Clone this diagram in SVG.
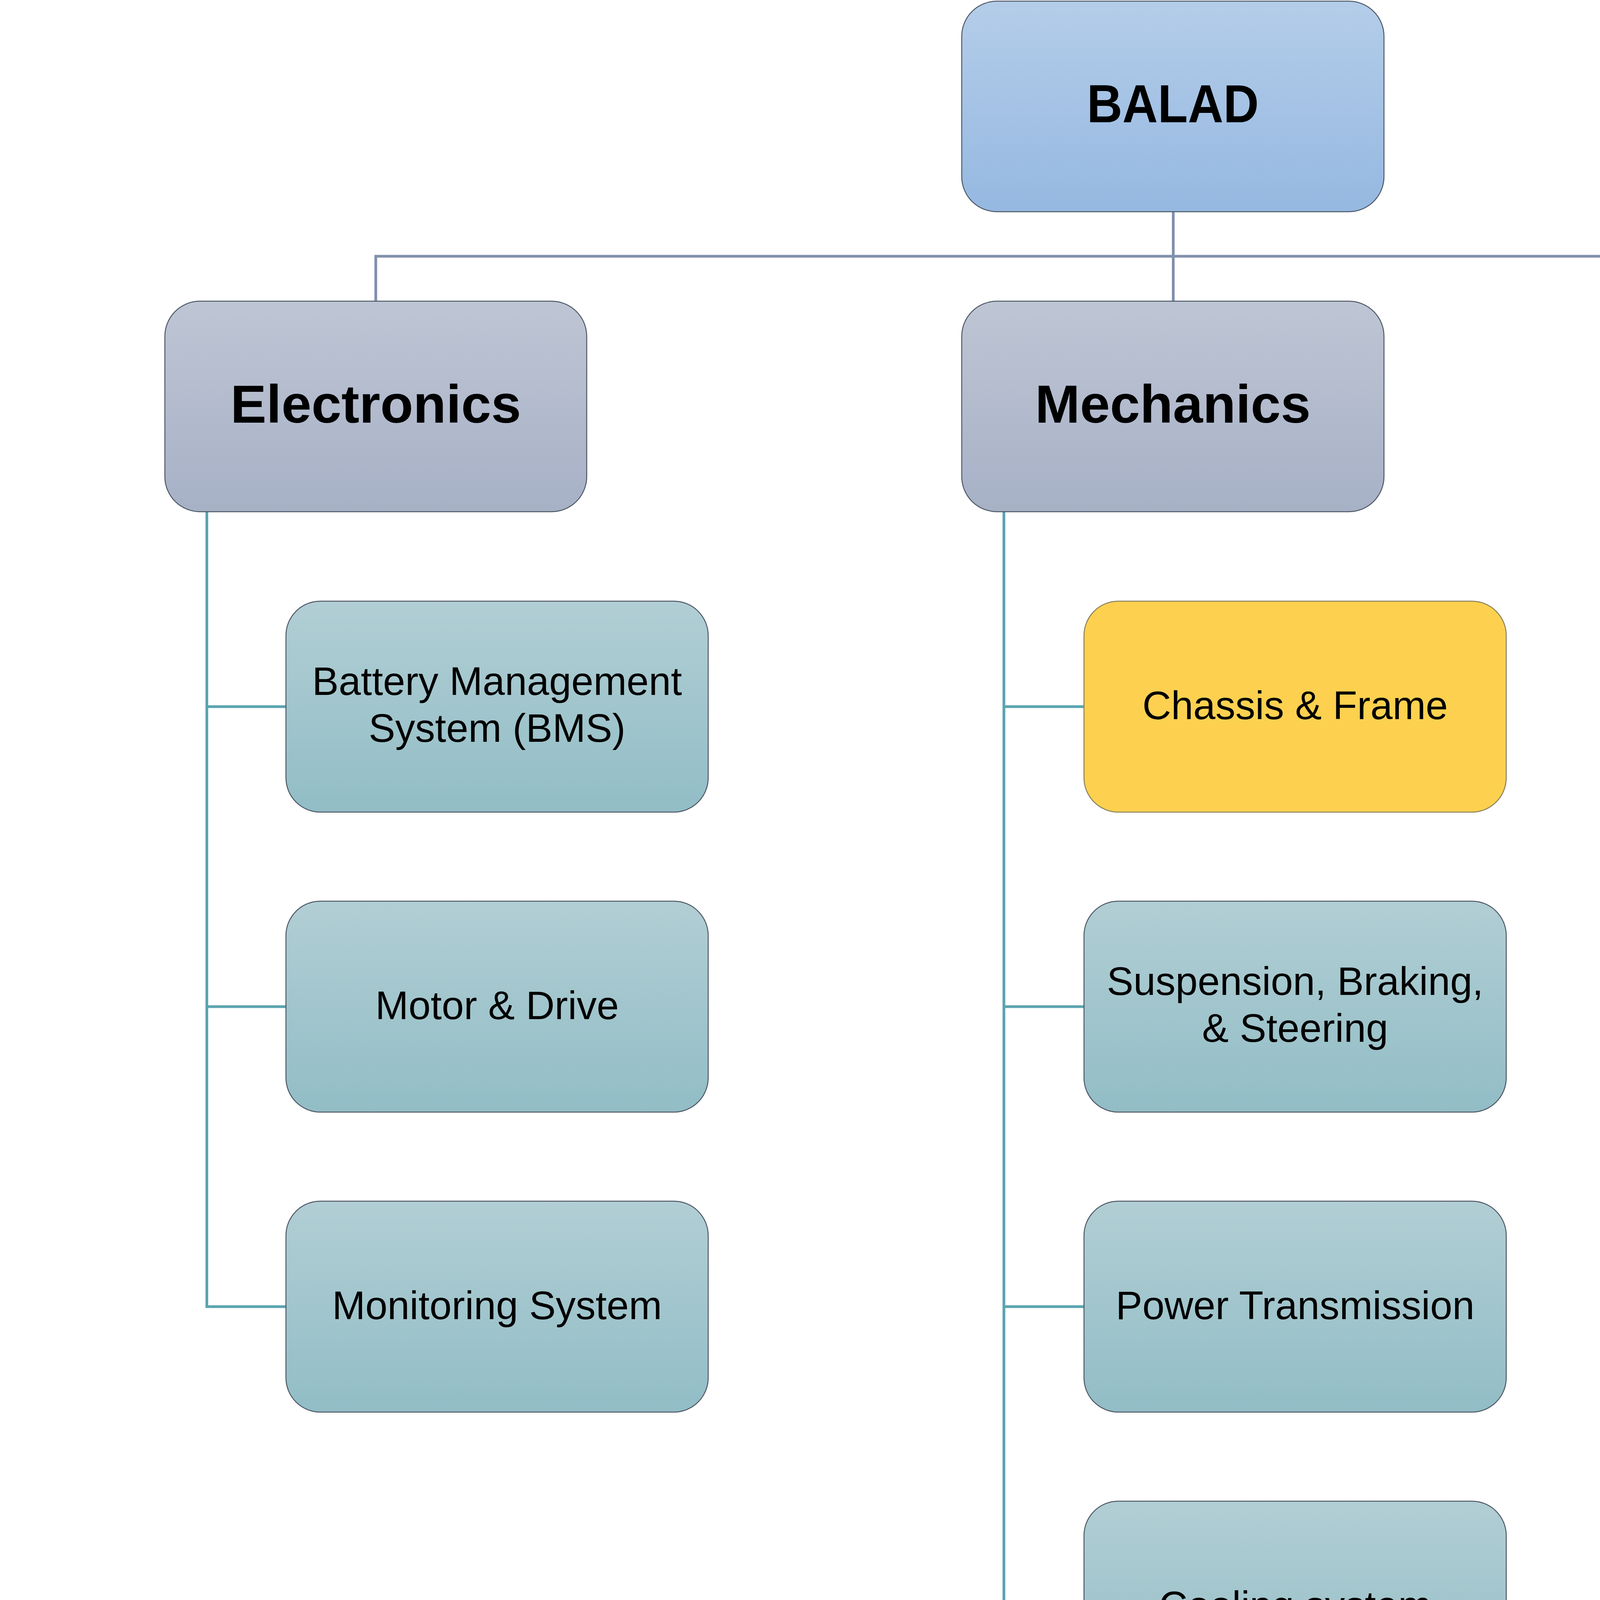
<svg xmlns="http://www.w3.org/2000/svg" width="6277" height="4388" viewBox="0 0 6277 4388">
<defs>
<linearGradient id="gBlue" x1="0" y1="0" x2="0" y2="1"><stop offset="0" stop-color="#b4cde9"/><stop offset="1" stop-color="#95b8e1"/></linearGradient>
<linearGradient id="gGray" x1="0" y1="0" x2="0" y2="1"><stop offset="0" stop-color="#bec5d4"/><stop offset="1" stop-color="#a7b1c6"/></linearGradient>
<linearGradient id="gTeal" x1="0" y1="0" x2="0" y2="1"><stop offset="0" stop-color="#b1ced4"/><stop offset="1" stop-color="#92bdc6"/></linearGradient>
</defs>
<style>
.box{stroke:#4e5866;stroke-width:2.5}
.root{fill:url(#gBlue)}
.l1{fill:url(#gGray)}
.l2{fill:url(#gTeal)}
.hl{fill:#fdd14f;stroke:#8a7f5c}
.t{font-family:"Liberation Sans",Arial,sans-serif;font-size:102px;fill:#000;text-anchor:middle}
.b{font-family:"Liberation Sans",Arial,sans-serif;font-size:138px;font-weight:bold;fill:#000;text-anchor:middle}
.c0{fill:none;stroke:#8090ad;stroke-width:7}
.c1{fill:none;stroke:#5ba4b0;stroke-width:7}
</style>
<rect width="6277" height="4388" fill="#ffffff"/>
<g id="connectors">
<path class="c0" d="M3003.5 542 V771 M962 771 V656 H5292.5 V771"/>
<path class="c1" d="M529.5 1310 V3345 H732 M529.5 1809 H732 M529.5 2577 H732"/>
<path class="c1" d="M2570 1310 V4113 H2775 M2570 1809 H2775 M2570 2577 H2775 M2570 3345 H2775"/>
<path class="c1" d="M4859.5 1310 V3345 H5062 M4859.5 1809 H5062 M4859.5 2577 H5062"/>
</g>
<g id="balad"><rect class="box root" x="2462" y="3" width="1081" height="539" rx="90"/><text class="b" x="3002.5" y="313" textLength="440" lengthAdjust="spacingAndGlyphs">BALAD</text></g>
<g id="electronics"><rect class="box l1" x="422" y="771" width="1080" height="539" rx="90"/><text class="b" x="962" y="1082">Electronics</text></g>
<g id="mechanics"><rect class="box l1" x="2462" y="771" width="1081" height="539" rx="90"/><text class="b" x="3002.5" y="1082">Mechanics</text></g>
<g id="industrial-design"><rect class="box l1" x="4752" y="771" width="1081" height="539" rx="90"/><text class="b" x="5292.5" y="1001">Industrial</text><text class="b" x="5292.5" y="1163">Design</text></g>
<g id="bms"><rect class="box l2" x="732" y="1539" width="1081" height="540" rx="88"/><text class="t" x="1272.5" y="1779">Battery Management</text><text class="t" x="1272.5" y="1899">System (BMS)</text></g>
<g id="motor-drive"><rect class="box l2" x="732" y="2307" width="1081" height="540" rx="88"/><text class="t" x="1272.5" y="2609">Motor &amp; Drive</text></g>
<g id="monitoring"><rect class="box l2" x="732" y="3075" width="1081" height="540" rx="88"/><text class="t" x="1272.5" y="3377">Monitoring System</text></g>
<g id="chassis"><rect class="box hl" x="2775" y="1539" width="1081" height="540" rx="88"/><text class="t" x="3315.5" y="1841">Chassis &amp; Frame</text></g>
<g id="suspension"><rect class="box l2" x="2775" y="2307" width="1081" height="540" rx="88"/><text class="t" x="3315.5" y="2547">Suspension, Braking,</text><text class="t" x="3315.5" y="2667">&amp; Steering</text></g>
<g id="power-transmission"><rect class="box l2" x="2775" y="3075" width="1081" height="540" rx="88"/><text class="t" x="3315.5" y="3377">Power Transmission</text></g>
<g id="cooling"><rect class="box l2" x="2775" y="3843" width="1081" height="540" rx="88"/><text class="t" x="3315.5" y="4145">Cooling system</text></g>
<g id="aesthetics"><rect class="box l2" x="5062" y="1539" width="1081" height="540" rx="88"/><text class="t" x="5602.5" y="1779">Aesthetics &amp; UI</text><text class="t" x="5602.5" y="1899">design</text></g>
<g id="ergonomics"><rect class="box l2" x="5062" y="2307" width="1081" height="540" rx="88"/><text class="t" x="5602.5" y="2609">Ergonomics</text></g>
<g id="human-factors"><rect class="box l2" x="5062" y="3075" width="1081" height="540" rx="88"/><text class="t" x="5602.5" y="3254">Human factors &amp;</text><text class="t" x="5602.5" y="3374">Environmental</text><text class="t" x="5602.5" y="3494">impact</text></g>
</svg>
